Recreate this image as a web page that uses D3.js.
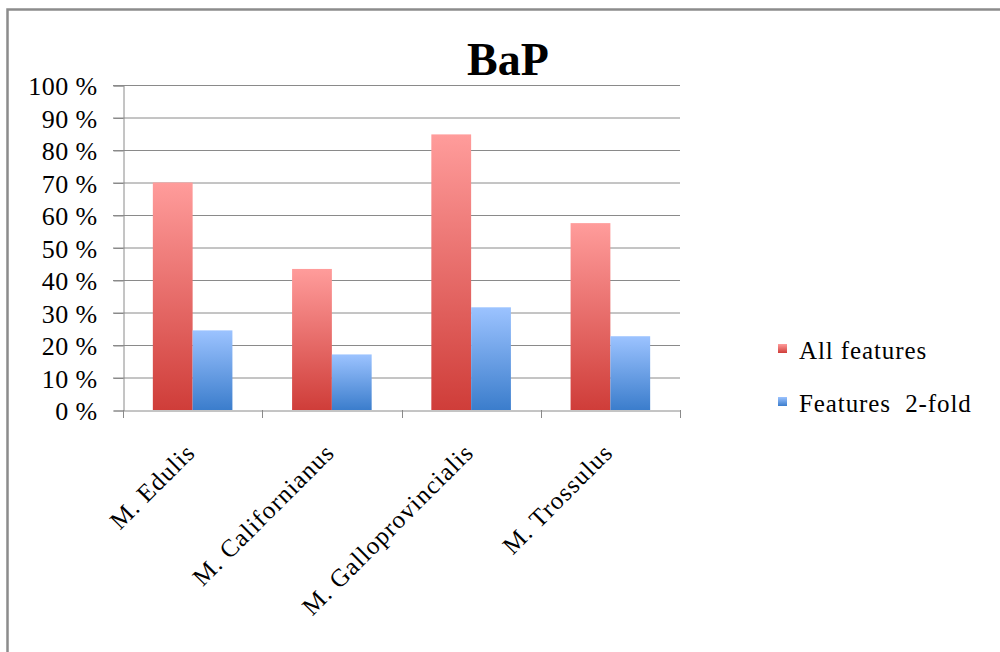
<!DOCTYPE html>
<html>
<head>
<meta charset="utf-8">
<script src="https://cdn.jsdelivr.net/npm/d3@7"></script>
<style>
  body { margin: 0; background: #fff; }
  svg text { font-family: "Liberation Serif", "Times New Roman", serif; fill: #000; }
</style>
</head>
<body>
<svg id="chart" width="1000" height="652"></svg>
<script>
// data
var categories = ["M. Edulis", "M. Californianus", "M. Galloprovincialis", "M. Trossulus"];
var seriesNames = ["All features", "Features  2-fold"];
var allFeatures = [70, 43.4, 84.8, 57.5];
var twoFold = [24.5, 17.1, 31.6, 22.7];
var yTicks = [0, 10, 20, 30, 40, 50, 60, 70, 80, 90, 100];

var svg = d3.select("#chart");

// frame
svg.append("rect")
   .attr("x", 7.5).attr("y", 9.5)
   .attr("width", 1100).attr("height", 800)
   .attr("fill", "none").attr("stroke", "#8c8c8c").attr("stroke-width", 2.5);

var plotL = 123, plotR = 680, plotT = 85, plotB = 410;

var defs = svg.append("defs");
function grad(id, c1, c2) {
  var g = defs.append("linearGradient").attr("id", id)
     .attr("x1", 0).attr("y1", 0).attr("x2", 0).attr("y2", 1);
  g.append("stop").attr("offset", "0%").attr("stop-color", c1);
  g.append("stop").attr("offset", "100%").attr("stop-color", c2);
}
grad("gRed", "#ff9c9b", "#cf3d39");
grad("gBlue", "#9cc3ff", "#3b7dcc");
var fills = ["url(#gRed)", "url(#gBlue)"];

var y = d3.scaleLinear().domain([0, 100]).range([plotB, plotT]);
var x = d3.scaleBand().domain(categories).range([plotL, plotR]).paddingInner(0).paddingOuter(0);
var xs = d3.scaleBand().domain([0, 1]).range([0, x.bandwidth()]).paddingOuter(0.75).paddingInner(0);

// gridlines
svg.append("g").selectAll("line")
   .data(yTicks.filter(function(d) { return d > 0; }))
   .enter().append("line")
   .attr("x1", plotL - 10).attr("x2", plotR)
   .attr("y1", function(d) { return y(d) + 0.5; })
   .attr("y2", function(d) { return y(d) + 0.5; })
   .attr("stroke", "#8a8a8a").attr("stroke-width", 1);

// y axis
var yAxis = svg.append("g")
   .attr("transform", "translate(" + (plotL + 0.5) + ",0.5)")
   .call(d3.axisLeft(y).tickValues(yTicks).tickSize(10).tickPadding(16)
         .tickFormat(function(d) { return d + " %"; }));
yAxis.selectAll("path, line").attr("stroke", "#8a8a8a");
yAxis.selectAll("text").attr("font-size", "26px").attr("fill", "#000")
     .attr("letter-spacing", "0.4px")
     .style("font-family", "Liberation Serif, serif").attr("dy", "0.36em");

// bars
var rows = categories.map(function(c, i) { return { cat: c, vals: [allFeatures[i], twoFold[i]] }; });
var grp = svg.append("g").selectAll("g").data(rows).enter().append("g")
   .attr("transform", function(d) { return "translate(" + x(d.cat) + ",0)"; });
grp.selectAll("rect").data(function(d) { return d.vals; }).enter().append("rect")
   .attr("x", function(d, i) { return xs(i); })
   .attr("y", function(d) { return y(d); })
   .attr("width", xs.bandwidth())
   .attr("height", function(d) { return plotB - y(d); })
   .attr("fill", function(d, i) { return fills[i]; });

// x axis
var xAxis = svg.append("g")
   .attr("transform", "translate(0," + (plotB + 0.5) + ")")
   .call(d3.axisBottom(x).tickSize(0).tickFormat(""));
xAxis.selectAll("path").attr("stroke", "#8a8a8a");
svg.append("g").selectAll("line")
   .data(categories.map(function(c) { return x(c); }).concat([plotR]))
   .enter().append("line")
   .attr("x1", function(d) { return Math.round(d) + 0.5; })
   .attr("x2", function(d) { return Math.round(d) + 0.5; })
   .attr("y1", plotB).attr("y2", plotB + 8)
   .attr("stroke", "#8a8a8a");

// category labels
svg.append("g").selectAll("text").data(categories).enter().append("text")
   .attr("transform", function(d) {
     return "translate(" + (x(d) + x.bandwidth() / 2 + 4) + "," + (plotB + 44) + ") rotate(-45)";
   })
   .attr("text-anchor", "end")
   .attr("font-size", "25px")
   .attr("letter-spacing", "1.1px")
   .text(function(d) { return d; });

// title
svg.append("text").attr("x", 508).attr("y", 75)
   .attr("text-anchor", "middle").attr("font-size", "46px").attr("font-weight", "bold")
   .text("BaP");

// legend
var leg = svg.append("g").selectAll("g").data(seriesNames).enter().append("g")
   .attr("transform", function(d, i) { return "translate(778," + (344 + i * 53) + ")"; });
leg.append("rect").attr("width", 9).attr("height", 9)
   .attr("fill", function(d, i) { return fills[i]; });
leg.append("text").attr("x", 21).attr("y", 15)
   .attr("font-size", "25px")
   .attr("letter-spacing", "0.9px")
   .style("white-space", "pre")
   .text(function(d) { return d; });
</script>
</body>
</html>
